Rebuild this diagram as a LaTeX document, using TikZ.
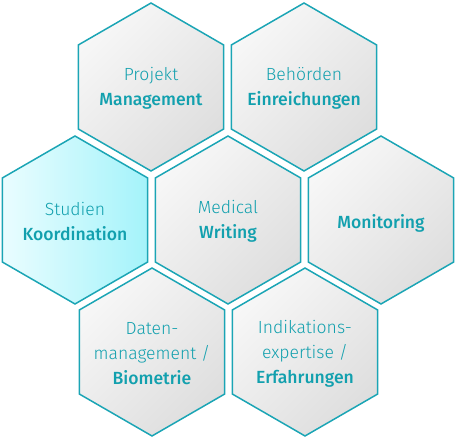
\documentclass[tikz,border=0pt]{standalone}
\usepackage{fontspec}
\setmainfont{Fira Sans Light}[BoldFont={Fira Sans Medium}]
\usepackage{tikz}
\definecolor{hexline}{HTML}{1BA5B5}
\definecolor{hextext}{HTML}{12A0AE}
\definecolor{greylight}{HTML}{F7F7F7}
\definecolor{greydark}{HTML}{DEDEDE}
\definecolor{cyanlight}{HTML}{EAFDFF}
\definecolor{cyandark}{HTML}{A4F3FA}
\tikzset{
    hexgrey/.style={draw=hexline, line width=0.85pt, line join=miter, left color=greylight, right color=greydark, shading angle=45},
    hexcyan/.style={hexgrey, left color=cyanlight, right color=cyandark},
    hexlabel/.style={text=hextext, align=center, inner sep=0pt, font=\fontsize{10}{14.2}\selectfont}
}
% pointy-top hexagon round a named coordinate
\newcommand{\hexagon}[2]{\path[#2] (#1) +(90:1.68cm) -- +(30:1.68cm) -- +(-30:1.68cm) -- +(-90:1.68cm) -- +(-150:1.68cm) -- +(150:1.68cm) -- cycle;}
\begin{document}
\begin{tikzpicture}[x=0.02cm, y=-0.02cm]
        \useasboundingbox (0,0) rectangle (456,438);
        % Cell centres
        \coordinate (projekt) at (151, 87);
        \coordinate (behoerden) at (304, 87);
        \coordinate (studien) at (75, 220);
        \coordinate (medical) at (228, 220);
        \coordinate (monitoring) at (381, 220);
        \coordinate (daten) at (152, 352);
        \coordinate (indikation) at (305, 352);
        
        % Hexagons
        \hexagon{projekt}{hexgrey}
        \hexagon{behoerden}{hexgrey}
        \hexagon{studien}{hexcyan}
        \hexagon{medical}{hexgrey}
        \hexagon{monitoring}{hexgrey}
        \hexagon{daten}{hexgrey}
        \hexagon{indikation}{hexgrey}
        
        % Labels
        \node[hexlabel] (projektlabel) at ([yshift=-1]projekt) {Projekt\\\textbf{Management}};
        \node[hexlabel] (behoerdenlabel) at ([yshift=-1]behoerden) {Behörden\\\textbf{Einreichungen}};
        \node[hexlabel] (studienlabel) at ([yshift=-1]studien) {Studien\\\textbf{Koordination}};
        \node[hexlabel] (medicallabel) at ([yshift=-1]medical) {Medical\\\textbf{Writing}};
        \node[hexlabel] (monitoringlabel) at ([yshift=-2]monitoring) {\textbf{Monitoring}};
        \node[hexlabel] (datenlabel) at ([yshift=-1]daten) {Daten-\\management /\\\textbf{Biometrie}};
        \node[hexlabel] (indikationlabel) at ([yshift=-1]indikation) {Indikations-\\expertise /\\\textbf{Erfahrungen}};
    \end{tikzpicture}
\end{document}
